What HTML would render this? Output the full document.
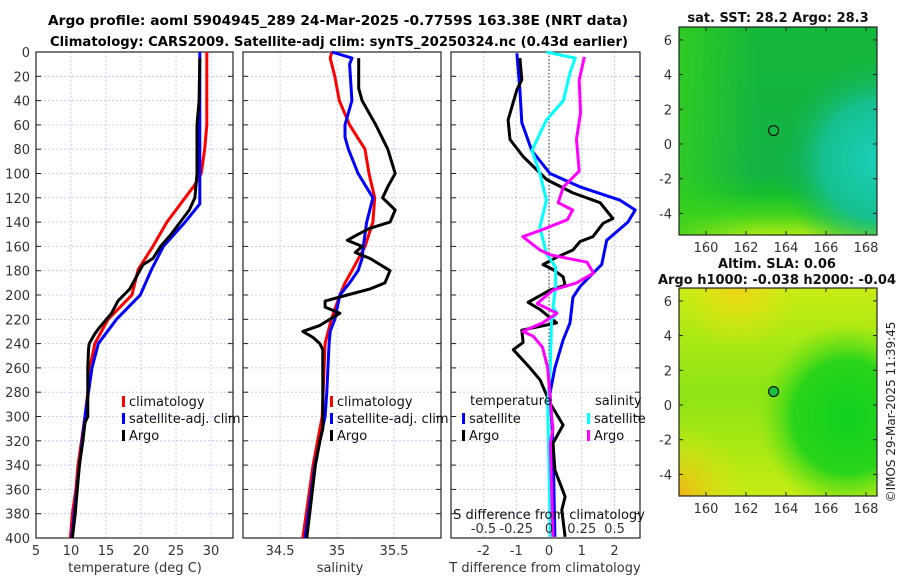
<!DOCTYPE html>
<html><head><meta charset="utf-8">
<style>
html,body{margin:0;padding:0;background:#fff;}
body{width:900px;height:580px;overflow:hidden;font-family:"Liberation Sans","DejaVu Sans",sans-serif;}
svg text{font-family:"DejaVu Sans","Liberation Sans",sans-serif;}
</style></head>
<body>
<svg id="fig" width="900" height="580" viewBox="0 0 900 580" xmlns="http://www.w3.org/2000/svg">
<defs>
<radialGradient id="sstCyan" cx="1" cy="0.64" r="0.5">
<stop offset="0" stop-color="#1ad0b8"/><stop offset="0.55" stop-color="#16c090"/><stop offset="1" stop-color="#12b446" stop-opacity="0"/>
</radialGradient>
<linearGradient id="sstBase" x1="0" y1="0" x2="0" y2="1">
<stop offset="0" stop-color="#14b83a"/><stop offset="0.7" stop-color="#12b246"/><stop offset="0.8" stop-color="#14be30"/><stop offset="0.9" stop-color="#40d41c"/><stop offset="1" stop-color="#aaea14"/>
</linearGradient>
<linearGradient id="sstLeft" x1="0" y1="0" x2="1" y2="0">
<stop offset="0" stop-color="#36d01e" stop-opacity="0.8"/><stop offset="0.4" stop-color="#36d01e" stop-opacity="0"/>
</linearGradient>
<linearGradient id="slaBase" x1="0" y1="0" x2="0" y2="1">
<stop offset="0" stop-color="#c8ec14"/><stop offset="0.5" stop-color="#8ce414"/><stop offset="1" stop-color="#c4ec14"/>
</linearGradient>
<radialGradient id="slaGreen" cx="0.85" cy="0.62" r="0.45">
<stop offset="0" stop-color="#10d01e"/><stop offset="0.6" stop-color="#28d41a"/><stop offset="1" stop-color="#60e014" stop-opacity="0"/>
</radialGradient>
<radialGradient id="slaOrange1" cx="0" cy="1" r="0.35">
<stop offset="0" stop-color="#f0b414"/><stop offset="1" stop-color="#e6e614" stop-opacity="0"/>
</radialGradient>
<radialGradient id="slaOrange2" cx="0.3" cy="0" r="0.3">
<stop offset="0" stop-color="#f0d214"/><stop offset="1" stop-color="#e6e614" stop-opacity="0"/>
</radialGradient>
</defs>
<g id="titles">
<text x="338" y="25" font-size="13" font-weight="bold" text-anchor="middle" textLength="580" lengthAdjust="spacingAndGlyphs">Argo profile: aoml 5904945_289 24-Mar-2025 -0.7759S 163.38E (NRT data)</text>
<text x="339" y="46" font-size="13" font-weight="bold" text-anchor="middle" textLength="578" lengthAdjust="spacingAndGlyphs">Climatology: CARS2009. Satellite-adj clim: synTS_20250324.nc (0.43d earlier)</text>
</g>
<g id="p1"></g>
<g id="p2"></g>
<g id="p3"></g>
<g id="maps"></g>
<text transform="translate(895,412) rotate(-90)" font-size="12" text-anchor="middle" fill="#222">©IMOS 29-Mar-2025 11:39:45</text>
</svg>
<script>
// ---- data (depth in dbar, values) ----
const depthTicks=[0,20,40,60,80,100,120,140,160,180,200,220,240,260,280,300,320,340,360,380,400];
const tempTicks=[5,10,15,20,25,30];
const salTicks=[34.5,35,35.5];
const tdiffTicks=[-2,-1,0,1,2];
const sdiffTicks=[-0.5,-0.25,0,0.25,0.5];
const sdiffTickLabels=["-0.5","-0.25","0","0.25","0.5"];

const tClimDepth=[0,60,80,100,110,120,140,160,179,200,220,240,260,280,300,320,340,360,380,400];
const tClimVal=[29.4,29.4,29.1,28.6,27.6,26.3,23.7,21.7,19.6,18.7,15.3,13.4,12.7,12.4,12.0,11.5,11.0,10.7,10.2,9.9];
const tSatDepth=[0,125,140,160,179,200,220,240,260,280,300,340,400];
const tSatVal=[28.4,28.4,26.3,23.2,21.5,19.9,16.5,13.9,13.0,12.5,12.0,11.2,10.1];
const tArgoDepth=[5,40,60,100,120,130,140,150,160,170,175,179,195,205,215,228,232,240,245,260,300,305,320,340,360,380,400];
const tArgoVal=[28.4,28.3,28.0,28.0,27.7,26.9,25.6,24.3,22.8,21.7,20.3,19.9,18.4,16.7,15.8,13.9,13.4,12.6,12.5,12.4,12.4,12.0,11.7,11.2,10.9,10.6,10.2];

const sClimDepth=[0,5,20,40,60,80,100,120,140,160,180,190,200,220,240,300,340,400];
const sClimVal=[34.955,34.94,34.98,35.02,35.11,35.245,35.28,35.33,35.315,35.245,35.13,35.07,35.025,34.95,34.895,34.87,34.79,34.70];
const sSatDepth=[0,5,10,40,60,70,80,100,120,140,160,170,180,190,200,220,230,240,280,300,340,400];
const sSatVal=[34.955,35.13,35.11,35.13,35.07,35.07,35.1,35.185,35.315,35.26,35.23,35.22,35.185,35.11,35.025,34.98,34.94,34.93,34.91,34.895,34.805,34.72];
const sArgoDepth=[5,30,40,60,80,100,110,120,130,140,145,150,155,160,165,170,180,190,195,200,205,210,215,225,230,235,240,245,260,310,320,340,400];
const sArgoVal=[35.19,35.19,35.22,35.34,35.445,35.51,35.45,35.40,35.51,35.465,35.29,35.185,35.09,35.22,35.16,35.29,35.465,35.42,35.29,35.09,34.895,34.895,35.025,34.85,34.70,34.79,34.85,34.875,34.875,34.875,34.85,34.81,34.735];

const dtSatDepth=[1,31,58,81,100,111,122,130,140,155,175,182,193,202,223,237,260,281,322,399];
const dtSatVal=[-0.98,-0.89,-0.83,-0.53,0.03,0.95,2.17,2.63,2.41,1.76,1.61,1.35,0.95,0.73,0.64,0.43,0.18,0.03,0.12,0.18];
const dtArgoDepth=[5,23,31,56,72,86,105,116,124,137,141,152,156,163,169,175,179,185,192,196,206,212,223,229,239,245,260,270,289,307,322,344,366,377,399];
const dtArgoVal=[-0.89,-0.83,-0.98,-1.25,-1.19,-0.79,-0.07,0.73,1.56,1.95,1.65,1.34,0.95,0.73,0.23,-0.18,0.12,0.43,0.49,0.03,-0.64,-0.27,0.23,-0.83,-0.79,-1.09,-0.58,-0.27,0.03,0.43,0.12,0.18,0.49,0.39,0.49];
const dsSatDepth=[0,5,17,40,56,81,100,122,144,166,177,193,210,215,220,260,289,399];
const dsSatVal=[-0.02,0.2,0.16,0.11,-0.02,-0.13,-0.07,-0.02,-0.07,-0.02,0.05,0.05,0.03,0.06,0.02,0.01,-0.01,0.01];
const dsArgoDepth=[4,23,50,72,98,111,124,130,138,147,152,163,167,173,182,190,196,207,215,223,230,234,243,260,300,310,322,399];
const dsArgoVal=[0.27,0.23,0.24,0.21,0.23,0.11,0.07,0.18,0.14,-0.07,-0.2,-0.07,0.01,0.29,0.34,0.21,0.03,-0.09,0.06,-0.05,-0.2,-0.12,-0.05,-0.01,0.02,0.03,0.01,0.03];

const mapLonTicks=[160,162,164,166,168];
const mapLatTicks=[6,4,2,0,-2,-4];
const argoLon=163.38, argoLat=0.7759;

// ---- helpers ----
const NS="http://www.w3.org/2000/svg";
function mk(tag,attrs,parent){const e=document.createElementNS(NS,tag);for(const k in attrs)e.setAttribute(k,attrs[k]);parent.appendChild(e);return e;}
const Y0=52,Y1=538;
const yD=d=>Y0+(d/400)*(Y1-Y0);

function panel(g,x0,x1,xmin,xmax,xticks,showY,name){
  const xs=v=>x0+(v-xmin)/(xmax-xmin)*(x1-x0);
  xticks.forEach(t=>{const l=mk('line',{x1:xs(t),x2:xs(t),y1:Y0,y2:Y1,stroke:'#b8c4ee','stroke-width':0.8,'stroke-dasharray':'2,2'},g);
    });
  depthTicks.forEach(d=>{const l=mk('line',{x1:x0,x2:x1,y1:yD(d),y2:yD(d),stroke:'#b8c4ee','stroke-width':0.8,'stroke-dasharray':'2,2'},g);
    
    mk('line',{x1:x0,x2:x0+5,y1:yD(d),y2:yD(d),stroke:'#222'},g);
    mk('line',{x1:x1-5,x2:x1,y1:yD(d),y2:yD(d),stroke:'#222'},g);
    if(showY){const t=mk('text',{x:x0-6,y:yD(d)+5,'font-size':13,'text-anchor':'end',fill:'#333'},g);t.textContent=d;
      }
  });
  const r=mk('rect',{x:x0,y:Y0,width:x1-x0,height:Y1-Y0,fill:'none',stroke:'#222','stroke-width':1.2},g);
  
  return xs;
}
function series(g,xs,dep,val,color,name,w){
  let p='';dep.forEach((d,i)=>{p+=(i?'L':'M')+xs(val[i]).toFixed(1)+','+yD(d).toFixed(1);});
  const e=mk('path',{d:p,fill:'none',stroke:color,'stroke-width':w||3,'stroke-linejoin':'round'},g);
  
}
function xlabels(g,xs,ticks,labels,y,name){
  ticks.forEach((t,i)=>{const e=mk('text',{x:xs(t),y:y,'font-size':13,'text-anchor':'middle',fill:'#333'},g);e.textContent=labels?labels[i]:t;
    });
}
function legendEntry(g,x,y,color,label,name){
  const m=mk('rect',{x:x,y:y-10,width:3,height:11,fill:color},g);
  
  const t=mk('text',{x:x+7,y:y,'font-size':13,fill:'#111'},g);t.textContent=label;
  
}

// Panel 1 temperature
const g1=document.getElementById('p1');
const xT=panel(g1,36,233,5,33.14,tempTicks,true,'temperature-panel');
series(g1,xT,tClimDepth,tClimVal,'#ff0000','temp-climatology-line');
series(g1,xT,tSatDepth,tSatVal,'#0000ff','temp-satellite-line');
series(g1,xT,tArgoDepth,tArgoVal,'#000000','temp-argo-line');
xlabels(g1,xT,tempTicks,null,555,'x-tick-label');
let t=mk('text',{x:135,y:572,'font-size':13,'text-anchor':'middle',fill:'#333'},g1);t.textContent='temperature (deg C)';

legendEntry(g1,122,406,'#ff0000','climatology','legend-climatology');
legendEntry(g1,122,423,'#0000ff','satellite-adj. clim','legend-satellite-adj');
legendEntry(g1,122,440,'#000000','Argo','legend-argo');

// Panel 2 salinity
const g2=document.getElementById('p2');
const xS=panel(g2,243,441,34.175,35.912,salTicks,false,'salinity-panel');
series(g2,xS,sClimDepth,sClimVal,'#ff0000','sal-climatology-line');
series(g2,xS,sSatDepth,sSatVal,'#0000ff','sal-satellite-line');
series(g2,xS,sArgoDepth,sArgoVal,'#000000','sal-argo-line');
xlabels(g2,xS,salTicks,null,555,'x-tick-label');
t=mk('text',{x:340,y:572,'font-size':13,'text-anchor':'middle',fill:'#333'},g2);t.textContent='salinity';

legendEntry(g2,330,406,'#ff0000','climatology','legend-climatology');
legendEntry(g2,330,423,'#0000ff','satellite-adj. clim','legend-satellite-adj');
legendEntry(g2,330,440,'#000000','Argo','legend-argo');

// Panel 3 differences
const g3=document.getElementById('p3');
const xD=panel(g3,451,640,-2.993,2.778,tdiffTicks,false,'difference-panel');
const xSD=v=>xD(v*4);
let z=mk('line',{x1:xD(0),x2:xD(0),y1:Y0,y2:Y1,stroke:'#333','stroke-width':1,'stroke-dasharray':'1.5,2'},g3);

series(g3,xD,dtSatDepth,dtSatVal,'#0000ff','tdiff-satellite-line');
series(g3,xD,dtArgoDepth,dtArgoVal,'#000000','tdiff-argo-line');
series(g3,xSD,dsSatDepth,dsSatVal,'#00ffff','sdiff-satellite-line');
series(g3,xSD,dsArgoDepth,dsArgoVal,'#ff00ff','sdiff-argo-line');
xlabels(g3,xD,tdiffTicks,null,555,'x-tick-label');
xlabels(g3,xSD,sdiffTicks,sdiffTickLabels,533,'s-diff-tick-label');
t=mk('text',{x:549,y:519,'font-size':13,'text-anchor':'middle',fill:'#111'},g3);t.textContent='S difference from climatology';

t=mk('text',{x:545,y:572,'font-size':13,'text-anchor':'middle',fill:'#333'},g3);t.textContent='T difference from climatology';

t=mk('text',{x:470,y:405,'font-size':13,fill:'#111'},g3);t.textContent='temperature';

t=mk('text',{x:595,y:405,'font-size':13,fill:'#111'},g3);t.textContent='salinity';

legendEntry(g3,462,423,'#0000ff','satellite','legend-t-satellite');
legendEntry(g3,462,440,'#000000','Argo','legend-t-argo');
legendEntry(g3,587,423,'#00ffff','satellite','legend-s-satellite');
legendEntry(g3,587,440,'#ff00ff','Argo','legend-s-argo');

// Maps
const gm=document.getElementById('maps');
function map(top,bottom,fills,name,titleLines){
  const x0=679,x1=877,lonMin=158.65,lonMax=168.55;
  const xs=v=>x0+(v-lonMin)/(lonMax-lonMin)*(x1-x0);
  const ys=v=>top.y0Lat0-v*top.per;
  const g=mk('g',{},gm);
  fills.forEach(f=>mk('rect',{x:x0,y:top.yTop,width:x1-x0,height:bottom-top.yTop,fill:f},g));
  mk('rect',{x:x0,y:top.yTop,width:x1-x0,height:bottom-top.yTop,fill:'none',stroke:'#222','stroke-width':1.2},g);
  mapLonTicks.forEach(v=>{mk('line',{x1:xs(v),x2:xs(v),y1:bottom,y2:bottom-4,stroke:'#222'},g);mk('line',{x1:xs(v),x2:xs(v),y1:top.yTop,y2:top.yTop+4,stroke:'#222'},g);
    const e=mk('text',{x:xs(v),y:bottom+17,'font-size':13,'text-anchor':'middle',fill:'#333'},g);e.textContent=v;
    });
  mapLatTicks.forEach(v=>{mk('line',{x1:x0,x2:x0+4,y1:ys(v),y2:ys(v),stroke:'#222'},g);mk('line',{x1:x1-4,x2:x1,y1:ys(v),y2:ys(v),stroke:'#222'},g);
    const e=mk('text',{x:x0-7,y:ys(v)+5,'font-size':13,'text-anchor':'end',fill:'#333'},g);e.textContent=v;
    });
  const c=mk('circle',{cx:xs(argoLon),cy:ys(argoLat),r:5,fill:name==='sla-map'?'#18c23c':'none',stroke:'#111','stroke-width':1.2},g);
  
  titleLines.forEach(l=>{const e=mk('text',{x:l.x,y:l.y,'font-size':13,'font-weight':'bold','text-anchor':'middle',fill:'#111'},g);e.textContent=l.s;
    });
}
map({yTop:27,y0Lat0:144,per:17.35},235,['url(#sstBase)','url(#sstLeft)','url(#sstCyan)'],'sst-map',
  [{x:778,y:22,s:'sat. SST: 28.2  Argo: 28.3'}]);
map({yTop:288,y0Lat0:405,per:17.35},496,['url(#slaBase)','url(#slaGreen)','url(#slaOrange1)','url(#slaOrange2)'],'sla-map',
  [{x:777,y:268,s:'Altim. SLA: 0.06'},{x:777,y:284,s:'Argo h1000: -0.038 h2000: -0.04'}]);
</script>
</body></html>
